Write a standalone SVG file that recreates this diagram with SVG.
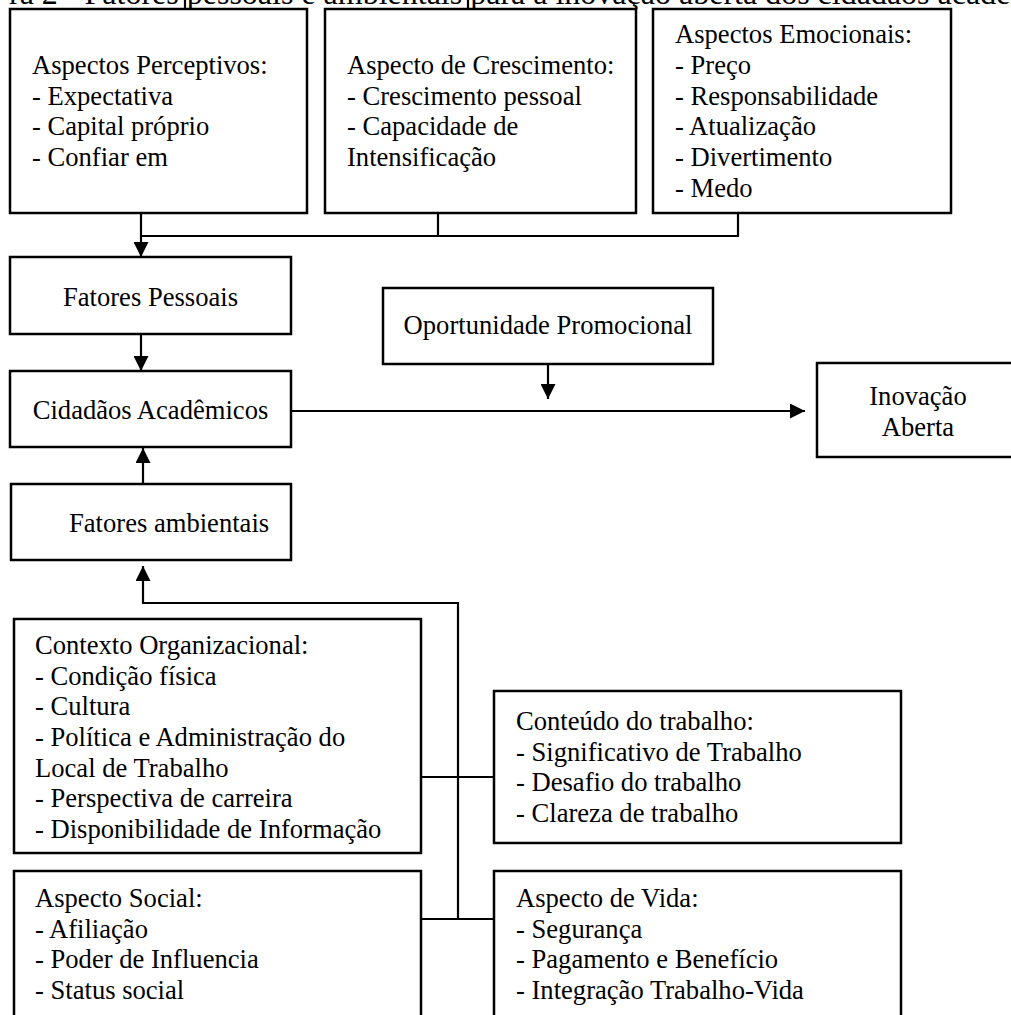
<svg xmlns="http://www.w3.org/2000/svg" width="1011" height="1015" viewBox="0 0 1011 1015">
<defs>
<style>
.box{fill:#fff;stroke:#000;stroke-width:2.5}
.ln{fill:none;stroke:#000;stroke-width:2.2}
text{font-family:"Liberation Serif","Times New Roman",serif;font-size:26.6px;fill:#000}
.c{text-anchor:middle}
</style>
<marker id="ah" markerUnits="userSpaceOnUse" markerWidth="15" markerHeight="15" refX="15" refY="7.5" orient="auto">
<path d="M0,0 L15,7.5 L0,15 z" fill="#000"/>
</marker>
</defs>
<rect width="1011" height="1015" fill="#fff"/>
<text x="9" y="4" style="font-size:32px">ra 2 - Fatores pessoais e ambientais para a inovação aberta dos cidadãos acadêm</text>
<g id="connectors">
<line class="ln" x1="185" y1="0" x2="185" y2="9"/>
<line class="ln" x1="468" y1="0" x2="468" y2="9"/>
<line class="ln" x1="141" y1="213" x2="141" y2="236"/>
<line class="ln" x1="438" y1="213" x2="438" y2="236"/>
<line class="ln" x1="738" y1="213" x2="738" y2="236"/>
<line class="ln" x1="140" y1="236" x2="739" y2="236"/>
<line class="ln" x1="141" y1="236" x2="141" y2="257" marker-end="url(#ah)"/>
<line class="ln" x1="141" y1="334" x2="141" y2="371" marker-end="url(#ah)"/>
<line class="ln" x1="143" y1="484" x2="143" y2="448" marker-end="url(#ah)"/>
<line class="ln" x1="548" y1="364" x2="548" y2="399" marker-end="url(#ah)"/>
<line class="ln" x1="291" y1="411" x2="805" y2="411" marker-end="url(#ah)"/>
<polyline class="ln" points="458,919 458,603 143,603 143,566" marker-end="url(#ah)"/>
<line class="ln" x1="421" y1="777" x2="494" y2="777"/>
<line class="ln" x1="421" y1="919" x2="494" y2="919"/>
</g>
<g id="perceptivos">
<rect class="box" x="10" y="9" width="297" height="204"/>
<text x="32" y="74">Aspectos Perceptivos:</text>
<text x="32" y="104.7">- Expectativa</text>
<text x="32" y="135.3">- Capital próprio</text>
<text x="32" y="166">- Confiar em</text>
</g>
<g id="crescimento">
<rect class="box" x="325" y="9" width="311" height="204"/>
<text x="347" y="74">Aspecto de Crescimento:</text>
<text x="347" y="104.7">- Crescimento pessoal</text>
<text x="347" y="135.3">- Capacidade de</text>
<text x="347" y="166">Intensificação</text>
</g>
<g id="emocionais">
<rect class="box" x="653" y="9" width="298" height="204"/>
<text x="675" y="43.3">Aspectos Emocionais:</text>
<text x="675" y="74">- Preço</text>
<text x="675" y="104.7">- Responsabilidade</text>
<text x="675" y="135.3">- Atualização</text>
<text x="675" y="166">- Divertimento</text>
<text x="675" y="196.7">- Medo</text>
</g>
<g id="pessoais">
<rect class="box" x="10" y="257" width="281" height="77"/>
<text class="c" x="150.5" y="306">Fatores Pessoais</text>
</g>
<g id="cidadaos">
<rect class="box" x="10" y="371" width="281" height="76"/>
<text class="c" x="150.5" y="419">Cidadãos Acadêmicos</text>
</g>
<g id="oportunidade">
<rect class="box" x="383" y="288" width="330" height="76"/>
<text class="c" x="548" y="334">Oportunidade Promocional</text>
</g>
<g id="inovacao">
<rect class="box" x="817" y="363" width="203" height="94"/>
<text class="c" x="918" y="405">Inovação</text>
<text class="c" x="918" y="436">Aberta</text>
</g>
<g id="ambientais">
<rect class="box" x="11" y="484" width="280" height="76"/>
<text x="69" y="532">Fatores ambientais</text>
</g>
<g id="contexto">
<rect class="box" x="14" y="619" width="407" height="234"/>
<text x="35" y="654">Contexto Organizacional:</text>
<text x="35" y="684.7">- Condição física</text>
<text x="35" y="715.3">- Cultura</text>
<text x="35" y="746">- Política e Administração do</text>
<text x="35" y="776.7">Local de Trabalho</text>
<text x="35" y="807.3">- Perspectiva de carreira</text>
<text x="35" y="838">- Disponibilidade de Informação</text>
</g>
<g id="conteudo">
<rect class="box" x="494" y="691" width="407" height="152"/>
<text x="516" y="730">Conteúdo do trabalho:</text>
<text x="516" y="760.7">- Significativo de Trabalho</text>
<text x="516" y="791.3">- Desafio do trabalho</text>
<text x="516" y="822">- Clareza de trabalho</text>
</g>
<g id="social">
<rect class="box" x="14" y="871" width="407" height="160"/>
<text x="35" y="907">Aspecto Social:</text>
<text x="35" y="937.7">- Afiliação</text>
<text x="35" y="968.3">- Poder de Influencia</text>
<text x="35" y="999">- Status social</text>
</g>
<g id="vida">
<rect class="box" x="494" y="871" width="407" height="160"/>
<text x="516" y="907">Aspecto de Vida:</text>
<text x="516" y="937.7">- Segurança</text>
<text x="516" y="968.3">- Pagamento e Benefício</text>
<text x="516" y="999">- Integração Trabalho-Vida</text>
</g>
</svg>
